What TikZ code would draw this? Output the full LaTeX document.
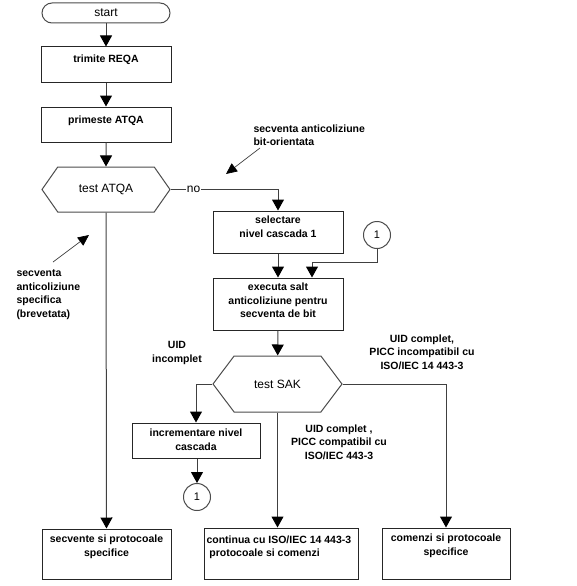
\documentclass[tikz,border=0pt]{standalone}
\usepackage{fontspec}
\setmainfont{Liberation Sans}
\usetikzlibrary{arrows.meta,positioning,shapes.symbols}
\newcommand{\bfs}{\fontsize{10.5pt}{13.5pt}\selectfont\bfseries}
\newcommand{\rfs}{\fontsize{12pt}{14pt}\selectfont}

\begin{document}
\begin{tikzpicture}[x=1pt, y=-1pt, line width=1pt,
    box/.style={draw=black!85, rectangle, minimum width=130pt, minimum height=35pt, inner sep=0pt},
    boxtxt/.style={font=\bfs, align=center, inner sep=0pt},
    note/.style={font=\bfs, align=center, inner sep=0pt},
    term/.style={draw=black!70, rectangle, rounded corners=10pt, minimum width=128pt, minimum height=20pt, inner sep=0pt, font=\rfs},
    hexa/.style={draw=black!70, signal, signal to=west and east, signal from=nowhere, inner sep=0pt, font=\rfs},
    conn/.style={draw=black!70, circle, minimum size=27pt, inner sep=0pt, font=\fontsize{11pt}{13pt}\selectfont},
    flow/.style={draw=black!75, -{Triangle[width=12pt,length=11pt,color=black]}},
    hint/.style={draw=black!75, line width=0.7pt, -{Triangle[width=10pt,length=11pt,color=black]}}]
    \useasboundingbox (0,0) rectangle (576,586);

    % main column
    \node[term] (start) at (106,13) {start};
    \node[box] (reqa) at (106,64.5) {};
    \node[boxtxt, below=8pt of reqa.north] (reqa-t) {trimite REQA};
    \node[box] (atqa) at (106,124.5) {};
    \node[boxtxt, below=9pt of atqa.north] (atqa-t) {primeste ATQA};
    \node[hexa, minimum width=128pt, minimum height=45pt, signal pointer angle=110] (tatqa) at (106,189.5) {test ATQA};

    % bit oriented branch
    \node[box, minimum height=42pt] (sel) at (278,232) {};
    \node[boxtxt, below=5pt of sel.north] (sel-t) {selectare\\nivel cascada 1};
    \node[conn] (c1a) at (377,235) {1};
    \node[box, minimum height=52pt] (exec) at (278,304) {};
    \node[boxtxt, below=5pt of exec.north] (exec-t) {executa salt\\anticoliziune pentru\\secventa de bit};
    \node[hexa, minimum width=129pt, minimum height=56pt, signal pointer angle=106] (sak) at (277.5,384) {test SAK};
    \node[box, minimum width=128pt] (incr) at (196,440.5) {};
    \node[boxtxt, below=6pt of incr.north] (incr-t) {incrementare nivel\\cascada};
    \node[conn] (c1b) at (197,497) {1};

    % bottom row
    \node[box, minimum width=129pt, minimum height=50pt] (secv) at (106.5,554) {};
    \node[boxtxt, below=6pt of secv.north] (secv-t) {secvente si protocoale\\specifice};
    \node[box, minimum width=154pt, minimum height=51pt] (cont) at (281,553.5) {};
    \node[boxtxt, align=left, anchor=north west] (cont-t) at (206,535) {continua cu ISO/IEC 14 443-3\\\ protocoale si comenzi};
    \node[box, minimum width=128pt, minimum height=51pt] (com) at (446,553.5) {};
    \node[boxtxt, below=6pt of com.north] (com-t) {comenzi si protocoale\\specifice};

    % notes
    \node[note, align=left, anchor=west] (n-bit) at (253,135) {secventa anticoliziune\\bit-orientata};
    \node[note, align=left, anchor=west] (n-spec) at (16,294.5) {secventa\\anticoliziune\\specifica\\(brevetata)};
    \node[note] (n-inc) at (177,353) {UID\\incomplet};
    \node[note] (n-incomp) at (422,352) {UID complet,\\PICC incompatibil cu\\ISO/IEC 14 443-3};
    \node[note] (n-comp) at (339,442) {UID complet ,\\PICC compatibil cu\\ISO/IEC 443-3};
    \coordinate (h1s) at (260,148);
    \coordinate (h1e) at (226,174);
    \coordinate (h2s) at (53,262);
    \coordinate (h2e) at (89,235);
    \coordinate (j1) at (312,262);

    % connectors
    \draw[flow] (start) -- (reqa);
    \draw[flow] (reqa) -- (atqa);
    \draw[flow] (atqa) -- (tatqa);
    \draw[flow] (tatqa) -| node[pos=0.107, fill=white, inner sep=1pt, font=\rfs] (no) {no} (sel);
    \draw[flow] (tatqa) -- (secv);
    \draw[flow] (sel) -- (exec);
    \draw[flow] (c1a.south) |- (j1) -- (j1 |- exec.north);
    \draw[flow] (exec) -- (sak);
    \draw[flow] (sak) -| (incr);
    \draw[flow] (incr.south -| c1b) -- (c1b);
    \draw[flow] (sak.south) -- (sak.south |- cont.north);
    \draw[flow] (sak) -| (com);
    \draw[hint] (h1s) -- (h1e);
    \draw[hint] (h2s) -- (h2e);
\end{tikzpicture}
\end{document}
